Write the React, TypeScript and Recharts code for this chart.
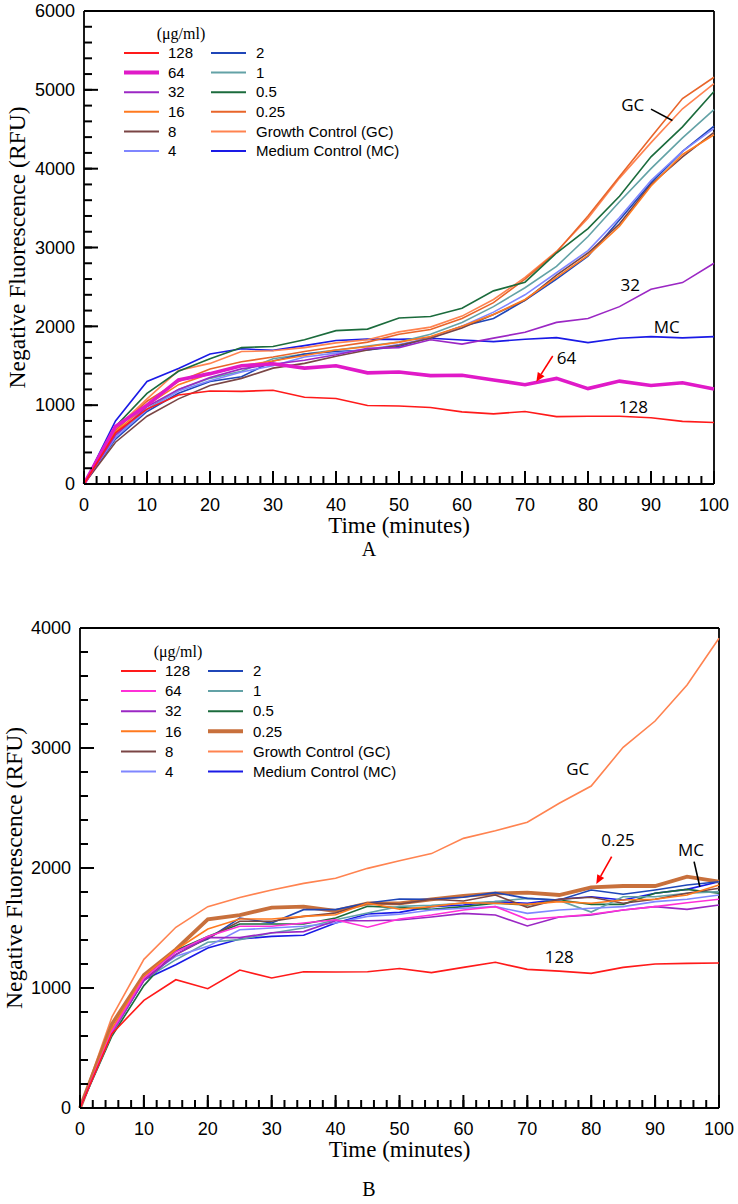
import { LineChart, Line, XAxis, YAxis, ReferenceDot, ReferenceLine, Legend } from 'recharts';

// sampling times (minutes)
const minutes = [0, 5, 10, 15, 20, 25, 30, 35, 40, 45, 50, 55, 60, 65, 70, 75, 80, 85, 90, 95, 100];
const doseLabels = ['128', '64', '32', '16', '8', '4', '2', '1', '0.5', '0.25', 'Growth Control (GC)', 'Medium Control (MC)'];
const doseKeys = ['d128', 'd64', 'd32', 'd16', 'd8', 'd4', 'd2', 'd1', 'd05', 'd025', 'gc', 'mc'];

// panel A
const a128 = [0, 650, 950, 1130, 1180, 1175, 1190, 1100, 1085, 995, 990, 970, 915, 890, 920, 855, 860, 860, 840, 795, 780];
const a64 = [0, 730, 1000, 1320, 1400, 1500, 1525, 1470, 1500, 1410, 1420, 1375, 1380, 1320, 1260, 1340, 1210, 1305, 1250, 1285, 1205];
const a32 = [0, 620, 980, 1200, 1350, 1460, 1520, 1570, 1640, 1720, 1730, 1830, 1775, 1850, 1925, 2050, 2100, 2250, 2470, 2555, 2800];
const a16 = [0, 660, 1000, 1260, 1400, 1500, 1560, 1630, 1700, 1740, 1800, 1870, 2000, 2150, 2340, 2620, 2900, 3270, 3780, 4180, 4430];
const a8 = [0, 530, 860, 1080, 1250, 1340, 1470, 1530, 1620, 1700, 1760, 1850, 1980, 2150, 2330, 2650, 2930, 3300, 3800, 4150, 4460];
const a4 = [0, 590, 940, 1180, 1310, 1420, 1500, 1610, 1660, 1710, 1770, 1850, 2000, 2180, 2400, 2680, 2960, 3380, 3850, 4220, 4510];
const a2 = [0, 570, 920, 1150, 1300, 1360, 1560, 1650, 1680, 1700, 1745, 1860, 2000, 2100, 2330, 2600, 2890, 3350, 3820, 4220, 4540];
const a1 = [0, 620, 950, 1200, 1340, 1430, 1590, 1650, 1700, 1750, 1800, 1900, 2050, 2250, 2490, 2760, 3140, 3580, 4000, 4390, 4750];
const a05 = [0, 730, 1150, 1430, 1590, 1730, 1745, 1830, 1945, 1965, 2105, 2125, 2230, 2450, 2560, 2930, 3240, 3650, 4150, 4530, 4980];
const a025 = [0, 680, 1050, 1300, 1460, 1550, 1610, 1680, 1740, 1800, 1900, 1960, 2100, 2300, 2600, 2940, 3400, 3900, 4400, 4890, 5160];
const aGC = [0, 700, 1080, 1440, 1530, 1680, 1690, 1730, 1790, 1830, 1930, 1990, 2130, 2340, 2620, 2950, 3370, 3880, 4330, 4760, 5080];
const aMC = [0, 800, 1300, 1465, 1650, 1715, 1695, 1755, 1820, 1838, 1835, 1848, 1827, 1806, 1836, 1857, 1794, 1848, 1869, 1853, 1869];

// panel B
const b128 = [0, 620, 897, 1069, 994, 1150, 1083, 1136, 1133, 1136, 1162, 1128, 1172, 1214, 1155, 1141, 1122, 1172, 1200, 1205, 1208];
const b64 = [0, 640, 1080, 1300, 1430, 1514, 1514, 1542, 1569, 1506, 1575, 1608, 1650, 1678, 1572, 1592, 1614, 1650, 1678, 1711, 1739];
const b32 = [0, 630, 1060, 1280, 1420, 1420, 1460, 1470, 1560, 1560, 1567, 1592, 1622, 1608, 1517, 1592, 1608, 1650, 1678, 1655, 1692];
const b16 = [0, 660, 1097, 1319, 1492, 1575, 1575, 1597, 1611, 1708, 1656, 1678, 1711, 1706, 1697, 1720, 1706, 1733, 1739, 1775, 1858];
const b8 = [0, 640, 1070, 1278, 1417, 1556, 1556, 1597, 1625, 1708, 1700, 1739, 1725, 1775, 1672, 1739, 1756, 1706, 1739, 1789, 1831];
const b4 = [0, 630, 1080, 1264, 1347, 1486, 1500, 1514, 1542, 1597, 1615, 1650, 1664, 1678, 1622, 1650, 1664, 1678, 1720, 1739, 1775];
const b2 = [0, 640, 1097, 1306, 1408, 1583, 1542, 1653, 1653, 1708, 1742, 1739, 1756, 1795, 1747, 1733, 1817, 1781, 1817, 1858, 1886];
const b1 = [0, 620, 1069, 1236, 1381, 1403, 1458, 1500, 1569, 1625, 1680, 1690, 1706, 1720, 1747, 1730, 1633, 1761, 1761, 1789, 1803];
const b05 = [0, 600, 1020, 1314, 1430, 1533, 1533, 1533, 1583, 1681, 1670, 1656, 1678, 1706, 1692, 1733, 1697, 1697, 1789, 1822, 1789];
const b025 = [0, 700, 1108, 1322, 1572, 1608, 1669, 1678, 1642, 1706, 1705, 1739, 1767, 1789, 1794, 1775, 1839, 1850, 1850, 1928, 1886];
const bGC = [0, 760, 1239, 1506, 1678, 1755, 1817, 1872, 1914, 1997, 2060, 2120, 2247, 2310, 2381, 2540, 2683, 3006, 3225, 3525, 3914];
const bMC = [0, 620, 1069, 1194, 1333, 1408, 1430, 1439, 1542, 1617, 1630, 1678, 1692, 1720, 1706, 1739, 1761, 1733, 1789, 1822, 1886];

const colorsA = ['#ff1a1a', '#e01ac8', '#9b27c4', '#ff7a1f', '#7a4545', '#7f86ff', '#1f46b8', '#63a2a6', '#1b6b3c', '#e8652a', '#ff8350', '#1a1ae6'];
const colorsB = ['#ff1a1a', '#ff30d8', '#9b27c4', '#ff7a1f', '#7a4545', '#7f86ff', '#1f46b8', '#63a2a6', '#1b6b3c', '#c8703c', '#ff8350', '#1a1ae6'];
const widthsA = [1.6, 3.6, 1.6, 1.6, 1.6, 1.6, 1.6, 1.6, 1.6, 1.6, 1.6, 1.6];
const widthsB = [1.6, 1.6, 1.6, 1.6, 1.6, 1.6, 1.6, 1.6, 1.6, 3.8, 1.6, 1.6];

const notesA = [
  { x: 87.1, y: 4810, text: 'GC' },
  { x: 86.7, y: 2525, text: '32' },
  { x: 92.5, y: 1995, text: 'MC' },
  { x: 76.6, y: 1595, text: '64' },
  { x: 87.2, y: 981, text: '128' },
];
const pointersA = [
  { x1: 90.0, y1: 4755, x2: 93.4, y2: 4610, color: '#000', arrow: false },
  { x1: 74.4, y1: 1624, x2: 71.8, y2: 1298, color: '#ff0000', arrow: true },
];
const notesB = [
  { x: 77.9, y: 2825, text: 'GC' },
  { x: 84.2, y: 2233, text: '0.25' },
  { x: 95.6, y: 2150, text: 'MC' },
  { x: 75, y: 1261, text: '128' },
];
const pointersB = [
  { x1: 83.2, y1: 2094, x2: 80.8, y2: 1867, color: '#ff0000', arrow: true },
  { x1: 96.1, y1: 2053, x2: 97.0, y2: 1844, color: '#000', arrow: false },
];

const SANS = 'Liberation Sans, Arial, sans-serif';
const SERIF = 'Liberation Serif, Times New Roman, serif';
const NOTE = 'Open Sans, sans-serif';

const MINOR = 8;
const xTicks = Array.from({ length: 51 }, (_, i) => i * 2);
const yTicksA = Array.from({ length: 31 }, (_, i) => i * 200);
const yTicksB = Array.from({ length: 21 }, (_, i) => i * 200);

function buildRows(series: number[][]) {
  return minutes.map((t, i) => {
    const row: Record<string, number> = { t };
    doseKeys.forEach((k, j) => (row[k] = series[j][i]));
    return row;
  });
}

const rowsA = buildRows([a128, a64, a32, a16, a8, a4, a2, a1, a05, a025, aGC, aMC]);
const rowsB = buildRows([b128, b64, b32, b16, b8, b4, b2, b1, b05, b025, bGC, bMC]);

// tick props sit at the inner end of the (inward) tick line, so step back out
function XTick(props: any) {
  const { x, y, payload } = props;
  if (payload.value % 10 !== 0) return <g />;
  return (
    <text x={x} y={y + MINOR + 21} dy="0.35em" textAnchor="middle" fontSize={18} fontFamily={SANS} fill="#000">
      {payload.value}
    </text>
  );
}

function YTick(props: any) {
  const { x, y, payload } = props;
  if (payload.value % 1000 !== 0) return <g />;
  return (
    <text x={x - MINOR - 9} y={y} dy="0.35em" textAnchor="end" fontSize={18} fontFamily={SANS} fill="#000">
      {payload.value}
    </text>
  );
}

// longer inward marks for the labelled ticks, placed through the axis scales
function xMark(len: number) {
  return (props: any) => (
    <path d={`M${props.cx},${props.cy}V${props.cy - len}`} stroke="#000" strokeWidth={2} fill="none" />
  );
}
function yMark(len: number) {
  return (props: any) => (
    <path d={`M${props.cx},${props.cy}H${props.cx + len}`} stroke="#000" strokeWidth={2} fill="none" />
  );
}

function pointerShape(color: string, arrow: boolean) {
  return (props: any) => {
    const { x1, y1, x2, y2 } = props;
    const ang = Math.atan2(y2 - y1, x2 - x1);
    const len = 9;
    const w = 4;
    const bx = x2 - len * Math.cos(ang);
    const by = y2 - len * Math.sin(ang);
    const pts = `${x2},${y2} ${bx - w * Math.sin(ang)},${by + w * Math.cos(ang)} ${bx + w * Math.sin(ang)},${by - w * Math.cos(ang)}`;
    return (
      <g>
        <line x1={x1} y1={y1} x2={arrow ? bx : x2} y2={arrow ? by : y2} stroke={color} strokeWidth={1.6} />
        {arrow && <polygon points={pts} fill={color} />}
      </g>
    );
  };
}

function DoseLegend({ colors, widths, step }: { colors: string[]; widths: number[]; step: number }) {
  return (
    <svg width={290} height={150} style={{ display: 'block' }}>
      <text x={70} y={13} dy="0.35em" textAnchor="middle" fontSize={16} fontFamily={SERIF} fill="#000">
        (μg/ml)
      </text>
      {doseLabels.map((name, i) => {
        const col = i < 6 ? 0 : 1;
        const yy = 33 + (i % 6) * step;
        const lx = col ? 100 : 13;
        const tx = col ? 145 : 57;
        return (
          <g key={name}>
            <line x1={lx} y1={yy} x2={lx + 35} y2={yy} stroke={colors[i]} strokeWidth={widths[i] > 2 ? 4 : 2} />
            <text x={tx} y={yy} dy="0.35em" fontSize={15} fontFamily={SANS} fill="#000">
              {name}
            </text>
          </g>
        );
      })}
    </svg>
  );
}

type PanelProps = {
  rows: Record<string, number>[];
  colors: string[];
  widths: number[];
  yMax: number;
  yTicks: number[];
  notes: { x: number; y: number; text: string }[];
  pointers: { x1: number; y1: number; x2: number; y2: number; color: string; arrow: boolean }[];
  height: number;
  margin: { top: number; right: number; bottom: number; left: number };
  yWidth: number;
  yLabelOffset: number;
  xLabelOffset: number;
  legendPos: { left: number; top: number };
  legendStep: number;
};

function Panel(p: PanelProps) {
  const order = doseKeys.map((_, i) => i).reverse();
  return (
    <LineChart width={738} height={p.height} data={p.rows} margin={p.margin}>
      <XAxis
        dataKey="t"
        type="number"
        domain={[0, 100]}
        ticks={xTicks}
        interval={0}
        tickSize={-MINOR}
        tickMargin={0}
        tickLine={{ stroke: '#000', strokeWidth: 2 }}
        tick={(props: any) => <XTick {...props} />}
        axisLine={{ stroke: '#000', strokeWidth: 1.8 }}
        height={50}
        label={{
          value: 'Time (minutes)',
          position: 'insideBottom',
          offset: p.xLabelOffset,
          style: { fontFamily: SERIF, fontSize: 23, fill: '#000' },
        }}
      />
      <YAxis
        type="number"
        domain={[0, p.yMax]}
        ticks={p.yTicks}
        interval={0}
        tickSize={-MINOR}
        tickMargin={0}
        tickLine={{ stroke: '#000', strokeWidth: 2 }}
        tick={(props: any) => <YTick {...props} />}
        axisLine={{ stroke: '#000', strokeWidth: 1.8 }}
        width={p.yWidth}
        label={{
          value: 'Negative Fluorescence (RFU)',
          angle: -90,
          position: 'insideLeft',
          offset: p.yLabelOffset,
          style: { textAnchor: 'middle', fontFamily: SERIF, fontSize: 23.5, fill: '#000' },
        }}
      />
      {/* frame: top and right edges */}
      <ReferenceLine x={100} stroke="#000" strokeWidth={1.8} />
      <ReferenceLine y={p.yMax} stroke="#000" strokeWidth={1.8} />
      {order.map((i) => (
        <Line
          key={doseKeys[i]}
          dataKey={doseKeys[i]}
          name={doseLabels[i]}
          type="linear"
          stroke={p.colors[i]}
          strokeWidth={p.widths[i]}
          dot={false}
          activeDot={false}
          isAnimationActive={false}
        />
      ))}
      {xTicks.filter((t) => t % 10 === 0).map((t) => (
        <ReferenceDot key={'xm' + t} x={t} y={0} r={1} ifOverflow="visible" shape={xMark(13)} />
      ))}
      {p.yTicks.filter((v) => v % 1000 === 0).map((v) => (
        <ReferenceDot key={'ym' + v} x={0} y={v} r={1} ifOverflow="visible" shape={yMark(14)} />
      ))}
      {p.pointers.map((q, i) => (
        <ReferenceLine
          key={'p' + i}
          segment={[{ x: q.x1, y: q.y1 }, { x: q.x2, y: q.y2 }]}
          stroke={q.color}
          shape={pointerShape(q.color, q.arrow)}
        />
      ))}
      {p.notes.map((n) => (
        <ReferenceDot
          key={n.text}
          x={n.x}
          y={n.y}
          r={0}
          stroke="none"
          fill="none"
          label={{ value: n.text, position: 'center', style: { fontFamily: NOTE, fontSize: 17, fill: '#000' } }}
        />
      ))}
      <Legend
        layout="vertical"
        verticalAlign="middle"
        align="center"
        wrapperStyle={{ left: p.legendPos.left, top: p.legendPos.top, width: 290, height: 150, bottom: 'auto' }}
        content={() => <DoseLegend colors={p.colors} widths={p.widths} step={p.legendStep} />}
      />
    </LineChart>
  );
}

export default function App() {
  return (
    <div style={{ position: 'absolute', left: 0, top: 0, width: 738, height: 1204, background: '#fff' }}>
      <div style={{ position: 'absolute', left: 0, top: 0 }}>
        <Panel
          rows={rowsA}
          colors={colorsA}
          widths={widthsA}
          yMax={6000}
          yTicks={yTicksA}
          notes={notesA}
          pointers={pointersA}
          height={556}
          margin={{ top: 11, right: 24, bottom: 22, left: 0 }}
          yWidth={84}
          yLabelOffset={17}
          xLabelOffset={1}
          legendPos={{ left: 111, top: 20 }}
          legendStep={19.6}
        />
      </div>
      <div style={{ position: 'absolute', left: 0, top: 600 }}>
        <Panel
          rows={rowsB}
          colors={colorsB}
          widths={widthsB}
          yMax={4000}
          yTicks={yTicksB}
          notes={notesB}
          pointers={pointersB}
          height={580}
          margin={{ top: 28, right: 19, bottom: 22, left: 0 }}
          yWidth={80}
          yLabelOffset={14}
          xLabelOffset={1}
          legendPos={{ left: 108, top: 38 }}
          legendStep={20.1}
        />
      </div>
      <div style={{ position: 'absolute', left: 349, top: 538, width: 40, textAlign: 'center', fontFamily: SERIF, fontSize: 20 }}>A</div>
      <div style={{ position: 'absolute', left: 349, top: 1178, width: 40, textAlign: 'center', fontFamily: SERIF, fontSize: 20 }}>B</div>
    </div>
  );
}
